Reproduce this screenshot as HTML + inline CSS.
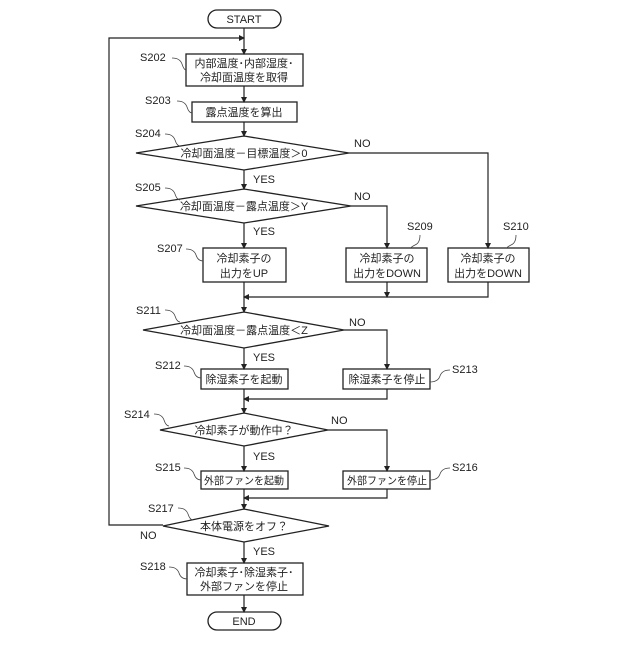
<!DOCTYPE html>
<html><head><meta charset="utf-8"><style>
html,body{margin:0;padding:0;background:#fff;}
svg text{font-family:"Liberation Sans","Noto Sans CJK JP",sans-serif;fill:#222;}
</style></head><body>
<svg width="640" height="640" viewBox="0 0 640 640" xmlns="http://www.w3.org/2000/svg">
<defs><marker id="a" markerWidth="6" markerHeight="6" refX="5" refY="3" orient="auto" markerUnits="userSpaceOnUse"><path d="M0,0 L6,3 L0,6 z" fill="#222"/></marker></defs>
<g fill="none" stroke="#222" stroke-width="1.3">
<rect x="208" y="10" width="73" height="18" rx="9"/>
<rect x="208" y="612" width="73" height="18" rx="9"/>
<rect x="186" y="54" width="117" height="32"/>
<rect x="192" y="102" width="105" height="20"/>
<polygon points="136,153 244,136 349,153 244,170"/>
<polygon points="136,206 244,189 351,206 244,223"/>
<rect x="203" y="248" width="83" height="34"/>
<rect x="346" y="248" width="81" height="34"/>
<rect x="448" y="248" width="81" height="34"/>
<polygon points="143,330 244,312 344,330 244,348"/>
<rect x="201" y="369" width="87" height="20"/>
<rect x="343" y="369" width="87" height="20"/>
<polygon points="160,430 244,413 328,430 244,446"/>
<rect x="201" y="471" width="87" height="18"/>
<rect x="343" y="471" width="87" height="18"/>
<polygon points="163,526 244,509 329,526 244,542"/>
<rect x="187" y="563" width="116" height="32"/>
</g>
<g fill="none" stroke="#222" stroke-width="1.2">
<line x1="244" y1="28" x2="244" y2="54" marker-end="url(#a)"/>
<polyline points="163,525 109,525 109,38 244,38" marker-end="url(#a)"/>
<line x1="244" y1="86" x2="244" y2="102" marker-end="url(#a)"/>
<line x1="244" y1="122" x2="244" y2="136" marker-end="url(#a)"/>
<line x1="244" y1="170" x2="244" y2="189" marker-end="url(#a)"/>
<polyline points="349,153 488,153 488,248" marker-end="url(#a)"/>
<line x1="244" y1="223" x2="244" y2="248" marker-end="url(#a)"/>
<polyline points="351,206 387,206 387,248" marker-end="url(#a)"/>
<line x1="387" y1="282" x2="387" y2="297" marker-end="url(#a)"/>
<polyline points="488,282 488,297 244,297" marker-end="url(#a)"/>
<line x1="244" y1="282" x2="244" y2="312" marker-end="url(#a)"/>
<line x1="244" y1="348" x2="244" y2="369" marker-end="url(#a)"/>
<polyline points="344,330 387,330 387,369" marker-end="url(#a)"/>
<polyline points="387,389 387,399 244,399" marker-end="url(#a)"/>
<line x1="244" y1="389" x2="244" y2="413" marker-end="url(#a)"/>
<line x1="244" y1="446" x2="244" y2="471" marker-end="url(#a)"/>
<polyline points="328,430 387,430 387,471" marker-end="url(#a)"/>
<polyline points="387,489 387,498 244,498" marker-end="url(#a)"/>
<line x1="244" y1="489" x2="244" y2="509" marker-end="url(#a)"/>
<line x1="244" y1="542" x2="244" y2="563" marker-end="url(#a)"/>
<line x1="244" y1="595" x2="244" y2="612" marker-end="url(#a)"/>
</g>
<g fill="none" stroke="#444" stroke-width="0.8">
<path d="M172,58 q8,0 10,6 q2,6 4,6"/>
<path d="M177,101 q8,0 10,6 q2,6 5,6"/>
<path d="M165,134 q8,0 10,6 q2,6 5,6"/>
<path d="M165,188 q8,0 10,6 q2,6 5,6"/>
<path d="M186,249 q8,0 10,6 q2,6 7,6"/>
<path d="M420,235 q0,8 -5,10 q-4,2 -4,3"/>
<path d="M516,235 q0,8 -5,10 q-4,2 -4,3"/>
<path d="M165,310 q8,0 10,6 q2,6 5,6"/>
<path d="M184,366 q8,0 10,6 q2,6 7,6"/>
<path d="M450,370 q-8,0 -10,6 q-2,6 -10,6"/>
<path d="M154,414 q8,0 10,6 q2,6 5,6"/>
<path d="M184,468 q8,0 10,6 q2,6 7,6"/>
<path d="M450,468 q-8,0 -10,6 q-2,6 -10,6"/>
<path d="M178,508 q8,0 10,6 q2,6 5,6"/>
<path d="M169,567 q8,0 10,6 q2,6 8,6"/>
</g>
<g font-size="11" text-anchor="middle">
<text x="244" y="23">START</text>
<text x="244" y="625">END</text>
<text x="244" y="67">内部温度･内部湿度･</text>
<text x="244" y="81">冷却面温度を取得</text>
<text x="244" y="116">露点温度を算出</text>
<text x="244" y="157">冷却面温度－目標温度＞0</text>
<text x="244" y="210">冷却面温度－露点温度＞Y</text>
<text x="244" y="262">冷却素子の</text>
<text x="244" y="277">出力をUP</text>
<text x="387" y="262">冷却素子の</text>
<text x="387" y="277">出力をDOWN</text>
<text x="488" y="262">冷却素子の</text>
<text x="488" y="277">出力をDOWN</text>
<text x="244" y="334">冷却面温度－露点温度＜Z</text>
<text x="244" y="383">除湿素子を起動</text>
<text x="387" y="383">除湿素子を停止</text>
<text x="244" y="434">冷却素子が動作中？</text>
<text x="244" y="484" font-size="10.5" textLength="80" lengthAdjust="spacingAndGlyphs">外部ファンを起動</text>
<text x="387" y="484" font-size="10.5" textLength="80" lengthAdjust="spacingAndGlyphs">外部ファンを停止</text>
<text x="244" y="530">本体電源をオフ？</text>
<text x="244" y="576">冷却素子･除湿素子･</text>
<text x="244" y="590">外部ファンを停止</text>
</g>
<g font-size="11">
<text x="140" y="61">S202</text>
<text x="145" y="104">S203</text>
<text x="135" y="137">S204</text>
<text x="135" y="191">S205</text>
<text x="157" y="252">S207</text>
<text x="407" y="230">S209</text>
<text x="503" y="230">S210</text>
<text x="136" y="314">S211</text>
<text x="155" y="369">S212</text>
<text x="452" y="373">S213</text>
<text x="124" y="418">S214</text>
<text x="155" y="471">S215</text>
<text x="452" y="471">S216</text>
<text x="148" y="512">S217</text>
<text x="140" y="570">S218</text>
<text x="354" y="147">NO</text>
<text x="354" y="200">NO</text>
<text x="349" y="326">NO</text>
<text x="331" y="424">NO</text>
<text x="140" y="539">NO</text>
<text x="253" y="183">YES</text>
<text x="253" y="235">YES</text>
<text x="253" y="361">YES</text>
<text x="253" y="460">YES</text>
<text x="253" y="555">YES</text>
</g>
</svg>
</body></html>
